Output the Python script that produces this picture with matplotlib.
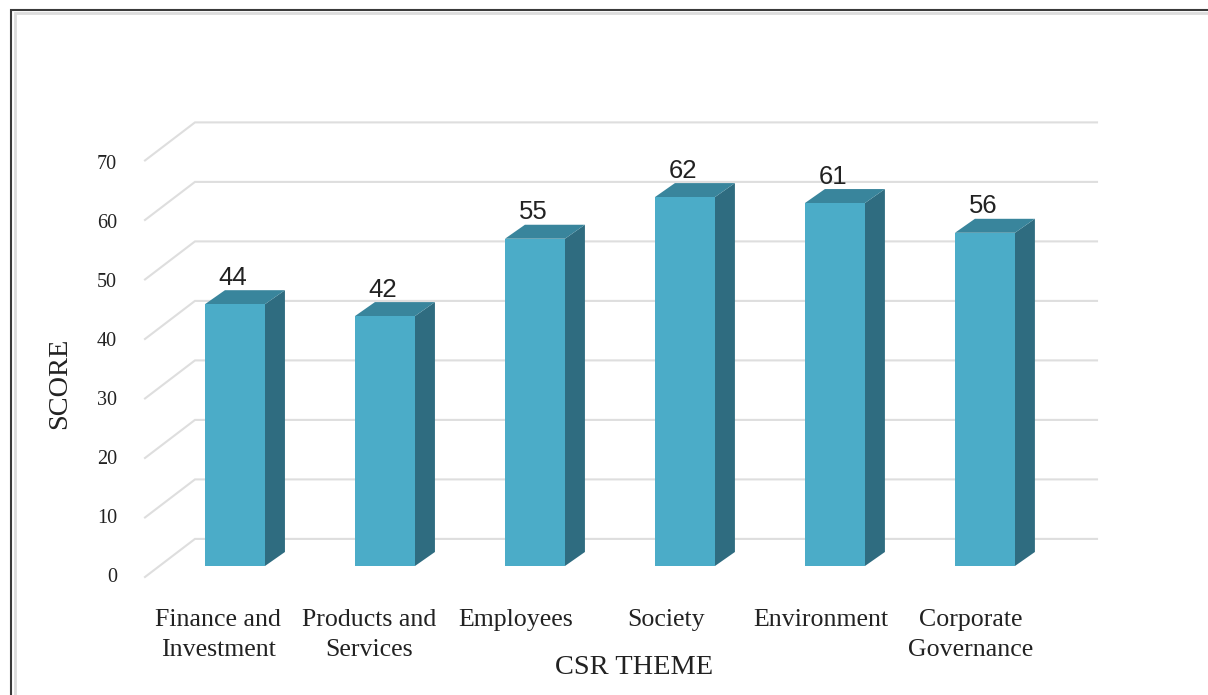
import numpy as np
from matplotlib import pyplot as plt
from matplotlib.lines import Line2D

themes = ["Finance and\nInvestment", "Products and\nServices", "Employees",
          "Society", "Environment", "Corporate\nGovernance"]
scores = [44, 42, 55, 62, 61, 56]
score_ticks = [0, 10, 20, 30, 40, 50, 60, 70]

W, H = 1208, 695
BAR_W = 0.4
# fake 3d depth of the bars / of the floor, in data units
DX, DY = 0.133, 2.35
WALL_DX, WALL_DY = 0.333, 6.4
# category labels don't sit quite centred under the bars
LABEL_SHIFT = [-0.113, -0.107, -0.127, -0.127, -0.093, -0.093]

FRONT = "#4BACC8"
SIDE = "#2F6C80"
TOP = "#39859C"
GRID = "#DEDEDE"
SERIF = "Liberation Serif"

fig = plt.figure(figsize=(W / 100, H / 100), dpi=100, facecolor="white")

# axes box in pixels: 145..1097 across, 123..578 down
ax = fig.add_axes([145 / W, 1 - 578 / H, (1097 - 145) / W, (578 - 123) / H])
ax.set_xlim(-0.6, 5.747)
ax.set_ylim(-2.02, 74.45)
ax.patch.set_visible(False)
for s in ax.spines.values():
    s.set_visible(False)

# gridlines run along the back wall and come forward on the left side
x_wall = -0.6 + WALL_DX
for t in score_ticks:
    ax.plot([-0.6, x_wall, 5.747], [t - 1.85, t - 1.85 + WALL_DY, t - 1.85 + WALL_DY],
            color=GRID, lw=1.5, zorder=1, clip_on=False, solid_joinstyle="miter")

# bars
xs = np.arange(len(scores))
ax.bar(xs, scores, width=BAR_W, color=FRONT, zorder=3)
for x, v in zip(xs, scores):
    r = x + BAR_W / 2
    l = x - BAR_W / 2
    ax.fill([r, r + DX, r + DX, r], [0, DY, v + DY, v], color=SIDE, lw=0, zorder=2.5)
    ax.fill([l, l + DX, r + DX, r], [v, v + DY, v + DY, v], color=TOP, lw=0, zorder=2.5)
    ax.text(x - 0.012, v + DY + 0.05, str(v), ha="center", va="bottom",
            family="Liberation Sans", fontsize=18.5, color="#222222", zorder=4)

ax.set_xticks(xs + np.array(LABEL_SHIFT))
ax.set_xticklabels(themes, family=SERIF, fontsize=18.6, linespacing=1.45, color="#222222")
ax.set_yticks(np.array(score_ticks) * 0.992 - 1.5)
ax.set_yticklabels(score_ticks, family=SERIF, fontsize=14.5, color="#222222")
ax.tick_params(axis="x", length=0, pad=22.5)
ax.tick_params(axis="y", length=0, pad=20)

ax.set_xlabel("CSR THEME", family=SERIF, fontsize=20.4, color="#222222")
ax.xaxis.set_label_coords((634 - 145) / 952, (578 - 667) / 455, transform=ax.transAxes)
ax.xaxis.label.set_va("center")
ax.set_ylabel("SCORE", family=SERIF, fontsize=20.4, color="#222222")
ax.yaxis.set_label_coords((60 - 145) / 952, (578 - 383) / 455, transform=ax.transAxes)
ax.yaxis.label.set_va("center")

# picture frame, open at right and bottom
for px, py, col, lw in [(10.5, 9.5, "#3A3A3A", 1.5), (14.5, 12.5, "#DCDCDC", 2.0)]:
    fig.add_artist(Line2D([px / W, px / W, 1], [0, 1 - py / H, 1 - py / H],
                          color=col, lw=lw, solid_joinstyle="miter"))

plt.savefig("out.png", dpi=100)
